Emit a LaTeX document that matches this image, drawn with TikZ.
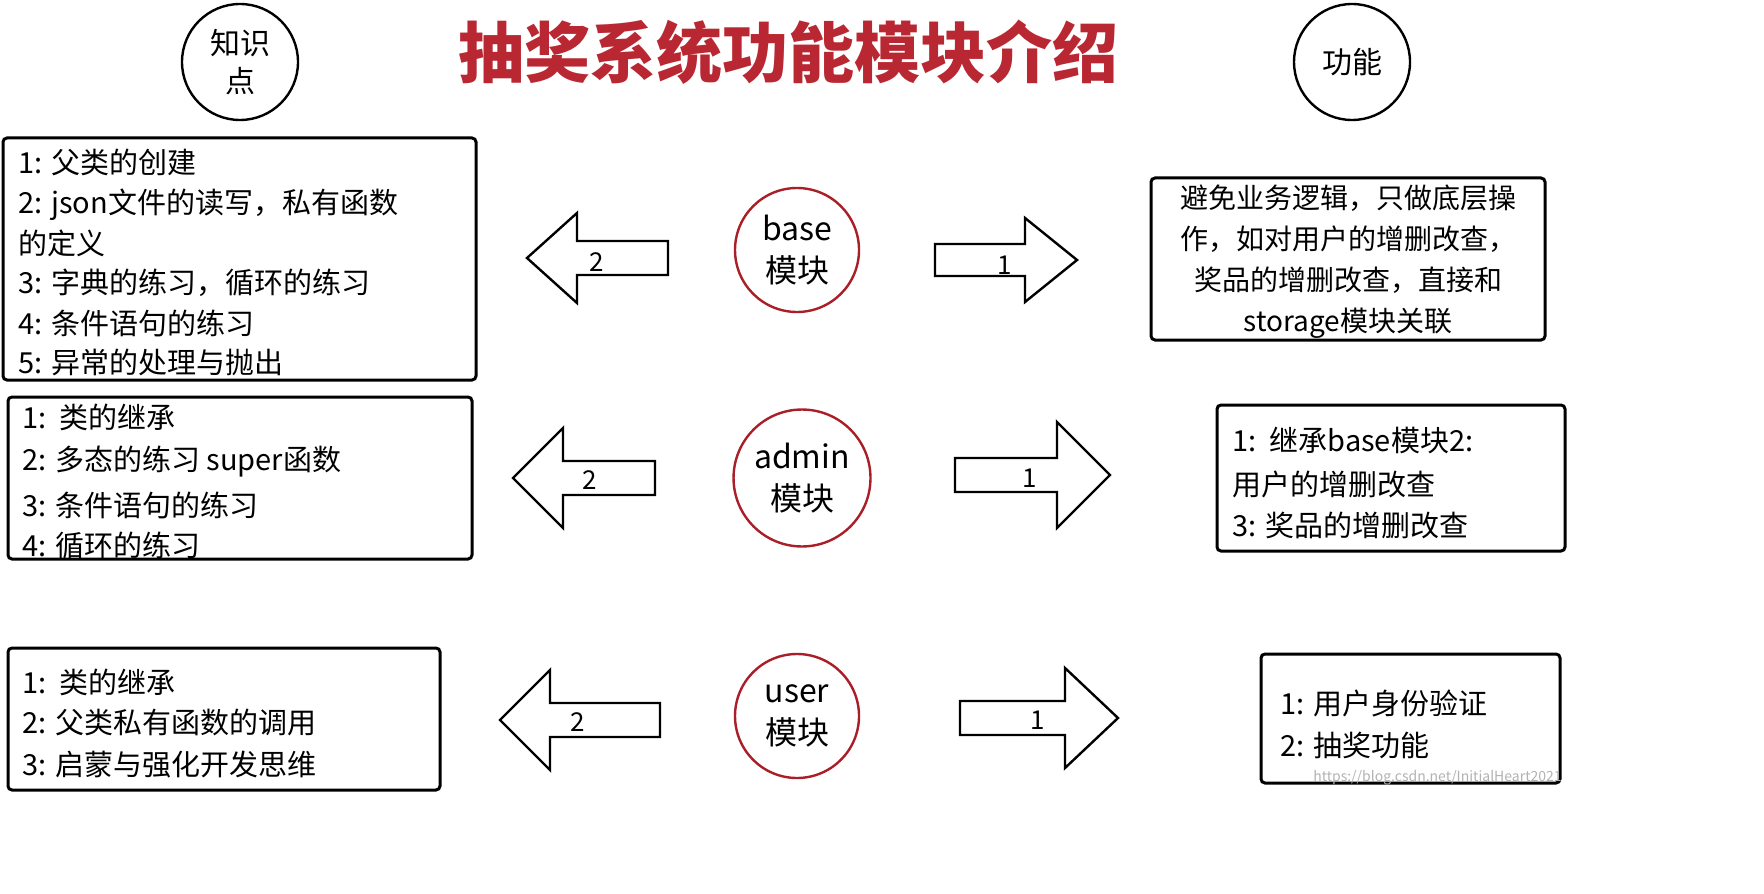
\documentclass[tikz,border=0pt]{standalone}
\usepackage{fontspec}
\setmainfont{Noto Sans CJK SC}
\definecolor{dred}{RGB}{185,40,50}
\definecolor{cred}{RGB}{170,30,40}
\tikzset{
 box/.style={draw,line width=1.5pt,rounded corners=2pt},
 circ/.style={draw,circle,line width=1.2pt,minimum size=58pt,align=center,font=\fontsize{15}{19}\selectfont},
 rcirc/.style={circ,draw=cred,minimum size=62pt,font=\fontsize{16}{21}\selectfont},
 txt/.style={anchor=west,font=\fontsize{14.5}{17}\selectfont,inner sep=0pt},
 ctxt/.style={align=center,font=\fontsize{14}{20.5}\selectfont,inner sep=0pt},
 arr/.style={draw,line width=1.2pt,fill=white},
 num/.style={font=\fontsize{13}{15}\selectfont,inner sep=0pt}
}
\newcommand{\lefta}[6]{%
 \draw[arr] (#1,#3) -- (#4,#3-#6) -- (#4,#3-#5) -- (#2,#3-#5) -- (#2,#3+#5) -- (#4,#3+#5) -- (#4,#3+#6) -- cycle;}
\begin{document}
\begin{tikzpicture}[x=0.5pt,y=-0.5pt]
\useasboundingbox (0,0) rectangle (1764,893);
\node[circ] (k) at (240,62) {知识\\点};
\node[circ] (g) at (1352,62) {功能};
\node[font=\fontsize{33}{36}\selectfont\bfseries,text=dred] (t) at (788,52) {抽奖系统功能模块介绍};
% row 1
\draw[box] (3,138) rectangle (476,380);
\node[txt] (a1) at (18,162) {1: 父类的创建};
\node[txt] (a2) at (18,205) {2: json文件的读写，私有函数};
\node[txt] (a3) at (18,243) {的定义};
\node[txt] (a4) at (18,283) {3: 字典的练习，循环的练习};
\node[txt] (a5) at (18,323) {4: 条件语句的练习};
\node[txt] (a6) at (18,362) {5: 异常的处理与抛出};
\node[rcirc] (base) at (797,250) {base\\模块};
\lefta{527}{668}{258}{577}{17}{45}
\node[num] (n1) at (597,262) {2};
\lefta{1077}{935}{260}{1025}{16}{42}
\node[num] (n2) at (1005,265) {1};
\draw[box] (1151,178) rectangle (1545,340);
\node[ctxt] (r1) at (1348,262) {避免业务逻辑，只做底层操\\作，如对用户的增删改查，\\奖品的增删改查，直接和\\storage模块关联};
% row 2
\draw[box] (8,397) rectangle (472,559);
\node[txt] (b1) at (22,417) {1:\ \ 类的继承};
\node[txt] (b2) at (22,462) {2: 多态的练习 super函数};
\node[txt] (b3) at (22,505) {3: 条件语句的练习};
\node[txt] (b4) at (22,546) {4: 循环的练习};
\node[rcirc] (admin) at (802,478) {admin\\模块};
\lefta{513}{655}{478}{563}{17}{50}
\node[num] (n3) at (590,480) {2};
\lefta{1110}{955}{475}{1057}{17}{53}
\node[num] (n4) at (1030,478) {1};
\draw[box] (1217,405) rectangle (1565,551);
\node[txt] (c1) at (1232,440) {1:\ \ 继承base模块2:};
\node[txt] (c2) at (1232,484) {用户的增删改查};
\node[txt] (c3) at (1232,525) {3: 奖品的增删改查};
% row 3
\draw[box] (8,648) rectangle (440,790);
\node[txt] (d1) at (22,682) {1:\ \ 类的继承};
\node[txt] (d2) at (22,722) {2: 父类私有函数的调用};
\node[txt] (d3) at (22,765) {3: 启蒙与强化开发思维};
\node[rcirc] (user) at (797,716) {user\\模块};
\lefta{500}{660}{720}{550}{17}{50}
\node[num] (n5) at (578,722) {2};
\lefta{1118}{960}{718}{1065}{17}{50}
\node[num] (n6) at (1038,720) {1};
\draw[box] (1261,654) rectangle (1560,783);
\node[txt] (e1) at (1280,703) {1: 用户身份验证};
\node[txt] (e2) at (1280,745) {2: 抽奖功能};
\node[anchor=east,text=gray!60,font=\fontsize{7}{8}\selectfont,inner sep=0pt] (w) at (1562,778) {https://blog.csdn.net/InitialHeart2021};
\end{tikzpicture}
\end{document}
